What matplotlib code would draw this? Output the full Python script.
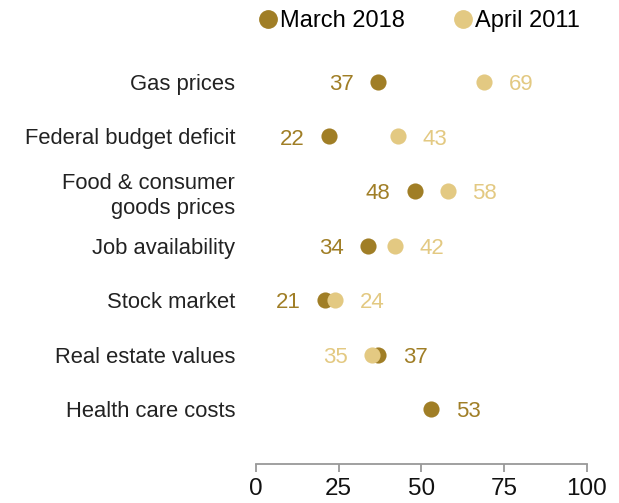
import matplotlib
matplotlib.use("Agg")
import matplotlib.pyplot as plt
from matplotlib.lines import Line2D

plt.rcParams['font.family'] = ['Liberation Sans', 'DejaVu Sans']

# datos
categorias = ["Gas prices", "Federal budget deficit", "Food & consumer\ngoods prices",
              "Job availability", "Stock market", "Real estate values", "Health care costs"]
marzo_2018 = [37, 22, 48, 34, 21, 37, 53]
abril_2011 = [69, 43, 58, 42, 24, 35, None]

color_2018 = "#A07E26"
color_2011 = "#E3C982"

fig = plt.figure(figsize=(6.19, 5.03), dpi=100)
ax = fig.add_axes([256 / 619, 1 - 464 / 503, 330.7 / 619, (464 - 27.3) / 503])

filas = list(range(len(categorias)))

# puntos: primero 2018, luego 2011 encima
ax.scatter(marzo_2018, filas, s=135, color=color_2018, zorder=3, linewidths=0)
f11 = [i for i in filas if abril_2011[i] is not None]
ax.scatter([abril_2011[i] for i in f11], f11, s=135, color=color_2011, zorder=4, linewidths=0)

# etiquetas de valores
for i in filas:
    a = marzo_2018[i]
    b = abril_2011[i]
    if b is None or a >= b:
        lado_a = 1
    else:
        lado_a = -1
    ax.annotate(str(a), (a, i), xytext=(lado_a * 26.4, -5.8), textcoords="offset points",
                ha="center", va="baseline", fontsize=16, color=color_2018)
    if b is not None:
        ax.annotate(str(b), (b, i), xytext=(-lado_a * 26.4, -5.8), textcoords="offset points",
                    ha="center", va="baseline", fontsize=16, color=color_2011)

ax.set_xlim(0, 100)
ax.set_ylim(7, -1)
ax.set_xticks([0, 25, 50, 75, 100])
ax.set_yticks(filas)
ax.set_yticklabels(categorias, fontsize=15.8, color="#222222", linespacing=1.25)
ax.tick_params(axis="y", length=0, pad=15)
ax.tick_params(axis="x", direction="out", length=5.5, width=1.3, color="#999999",
               labelsize=17.5, pad=4.5, labelcolor="#111111")
for s in ["top", "right", "left"]:
    ax.spines[s].set_visible(False)
ax.spines["bottom"].set_color("#999999")
ax.spines["bottom"].set_linewidth(1.3)

# leyenda
handles = [Line2D([], [], marker="o", linestyle="", markersize=12.5, color=color_2018),
           Line2D([], [], marker="o", linestyle="", markersize=12.5, color=color_2011)]
fig.legend(handles, ["March 2018", "April 2011"], loc="center",
           bbox_to_anchor=(418 / 619, 1 - 21 / 503), ncol=2, frameon=False,
           fontsize=17, handletextpad=0.0, columnspacing=2.0, handlelength=1.0)

fig.savefig("out.png", dpi=100)
